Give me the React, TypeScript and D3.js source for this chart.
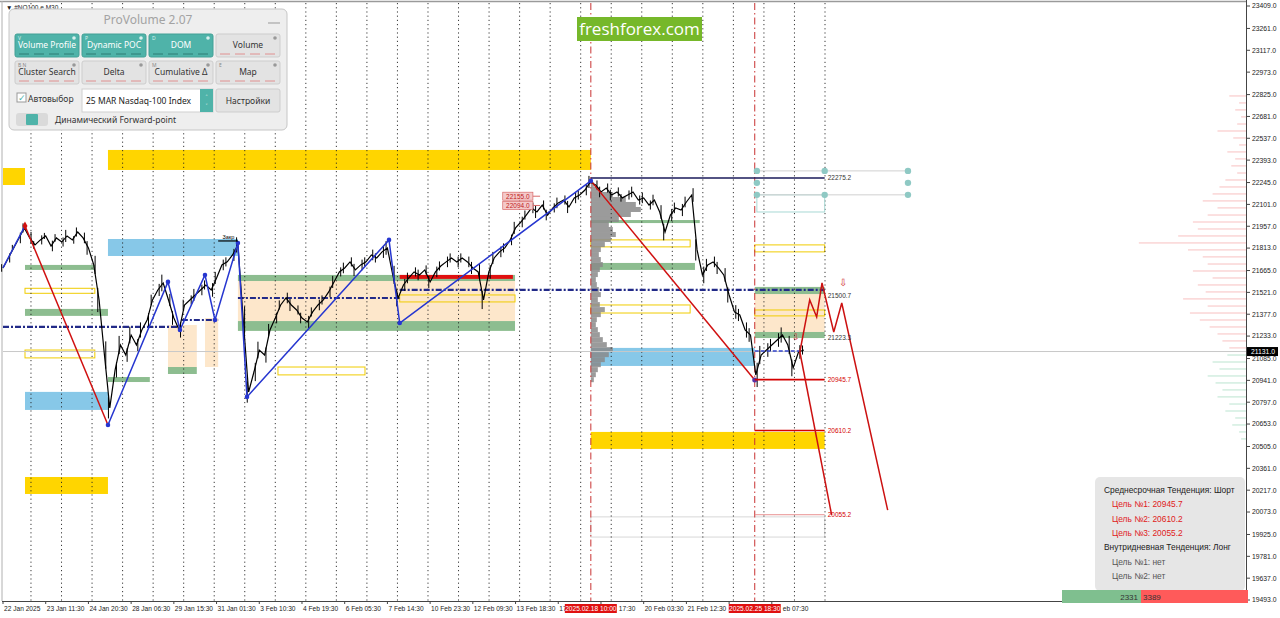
import * as d3 from "d3";

const W = 1280;
const H = 618;

// right price axis labels
const priceTicks = [
  23409, 23261, 23117, 22973, 22825, 22681, 22537, 22393, 22245, 22101, 21957,
  21813, 21665, 21521, 21377, 21233, 21085, 20941, 20797, 20653, 20505, 20361,
  20217, 20073, 19925, 19781, 19637, 19493,
];

// bottom time labels (one every 8 steps)
const timeLabels = [
  "22 Jan 2025", "23 Jan 11:30", "24 Jan 20:30", "28 Jan 06:30", "29 Jan 15:30",
  "31 Jan 01:30", "3 Feb 10:30", "4 Feb 19:30", "6 Feb 05:30", "7 Feb 14:30",
  "10 Feb 23:30", "12 Feb 09:30", "13 Feb 18:30", "17 Feb 04:30", "18 Feb 17:30",
  "20 Feb 03:30", "21 Feb 12:30", "24 Feb 22:30", "26 Feb 07:30",
];
// what is left visible of labels partly covered by the separator tags
const labelCuts: Record<number, { text: string; after: boolean }> = {
  13: { text: "17", after: false },
  14: { text: "17:30", after: true },
  17: { text: "", after: false },
  18: { text: "eb 07:30", after: true },
};
const separators = [
  { at: 110.1, text: "2025.02.18 10:00" },
  { at: 140.8, text: "2025.02.25 18:30" },
];

// #NQ100 M30 closes, one value per step
const closes = [
  21682, 21748, 21814, 21880, 21946, 21880, 21834, 21867, 21893, 21827,
  21880, 21853, 21893, 21867, 21919, 21880, 21814, 21702, 21471, 21108,
  20760, 21010, 21174, 21108, 21240, 21174, 21273, 21339, 21471, 21537,
  21583, 21471, 21352, 21273, 21438, 21471, 21504, 21537, 21570, 21537,
  21616, 21702, 21722, 21768, 21834, 21339, 20864, 20996, 21141, 21108,
  21273, 21352, 21438, 21484, 21438, 21405, 21352, 21326, 21392, 21438,
  21471, 21524, 21590, 21656, 21682, 21722, 21669, 21702, 21722, 21768,
  21748, 21788, 21814, 21636, 21484, 21570, 21616, 21656, 21636, 21669,
  21590, 21656, 21695, 21722, 21748, 21722, 21748, 21722, 21682, 21656,
  21471, 21656, 21748, 21788, 21814, 21867, 21946, 21985, 22031, 22078,
  22051, 22097, 22031, 22078, 22111, 22130, 22084, 22144, 22163, 22196,
  22249, 22229, 22183, 22209, 22163, 22183, 22144, 22163, 22183, 22130,
  22144, 22097, 22130, 22051, 21919, 22031, 22078, 22064, 22117, 22163,
  21801, 21636, 21702, 21722, 21682, 21636, 21504, 21392, 21372, 21273,
  21240, 20977, 21108, 21141, 21174, 21207, 21240, 21174, 21023, 21128,
  21141,
];
// half range of the bars around each close
const swings = [
  25, 30, 20, 35, 30, 40, 25, 30, 20, 35, 25, 30, 40, 25, 30, 35, 45,
  60, 80, 90, 70,
  50, 60, 45, 55, 40, 50, 45, 35, 40, 55,
  40, 45, 50, 35, 30, 40, 35, 30, 45, 40, 35, 30, 40, 50,
  90, 70, 60, 55, 50,
  40, 35, 30, 35, 40, 30, 35, 40, 30, 35, 30, 35, 40, 30, 35, 30, 40, 35, 30, 35, 30, 40, 45,
  60, 55, 40, 35, 30, 35, 30, 40, 35, 30, 35, 30, 35, 30, 35, 40, 55, 60,
  45, 40, 35, 30, 35, 40, 35, 30, 35, 40, 30, 35, 30, 35, 30, 40, 35, 30, 35, 40,
  30, 35, 30, 35, 30, 25, 30, 35, 30, 35, 30, 35, 45, 55, 40, 35, 40, 35, 45,
  70, 55, 40, 35, 40, 45, 50, 45, 40, 50, 45, 80, 60, 45, 40, 45, 50, 60, 55, 45, 30,
];

// zigzag legs [step, price]
const zigStart = [[0, 21682], [4.12, 21959]];
const zigMain = [
  [19.66, 20647], [30.9, 21590], [33.15, 21273], [37.83, 21636], [39.7, 21339],
  [44.0, 21847], [45.7, 20832], [72.3, 21867], [74.3, 21319], [110.1, 22256],
];
const redLegs = [
  [[4.12, 21959], [19.66, 20647]],
  [[110.1, 22256], [140.8, 20944]],
];
const projection = [
  [149.25, 21128], [151.1, 21471], [152.4, 21359], [153.4, 21583],
  [155.6, 21260], [157.1, 21451], [165.7, 20086],
];
const projectionBranch = [[149.25, 21128], [155.2, 20054]];

// zones [fromStep, toStep, topPrice, bottomPrice]
const yellowZones = [
  [0, 4.12, 22341, 22229],
  [19.66, 110.1, 22460, 22328],
  [4.12, 19.66, 20304, 20192],
  [110.1, 153.9, 20601, 20489],
];
const blueZones = [
  [19.66, 44.0, 21873, 21761],
  [4.12, 19.66, 20865, 20746],
  [110.1, 140.8, 21155, 21036],
];
const peachZones = [
  [44.0, 95.9, 21596, 21332],
  [30.9, 36.3, 21306, 21029],
  [37.83, 40.3, 21352, 21029],
  [140.8, 153.9, 21510, 21260],
];
const greenZones = [
  [4.12, 17.2, 21702, 21669],
  [4.12, 19.66, 21412, 21366],
  [19.66, 27.5, 20963, 20930],
  [30.9, 36.3, 21029, 20983],
  [44.0, 95.9, 21636, 21596],
  [44.0, 95.9, 21332, 21267],
  [110.1, 129.6, 21715, 21669],
  [110.1, 130.5, 21998, 21978],
  [140.8, 153.9, 21557, 21510],
  [140.8, 153.9, 21260, 21220],
];
const yellowOutlines = [
  [4.12, 17.2, 21548, 21515],
  [4.12, 17.2, 21141, 21089],
  [51.5, 67.8, 21029, 20977],
  [74.3, 95.9, 21504, 21458],
  [110.1, 128.7, 21867, 21821],
  [110.1, 128.7, 21438, 21385],
  [140.8, 153.9, 21834, 21788],
  [140.8, 153.9, 21405, 21366],
];
const redBars = [[74.3, 95.5, 21636, 21610]];
const navyDash = [
  [0, 33.5, 21293],
  [33.5, 40.3, 21339],
  [44.0, 74.3, 21484],
  [74.3, 153.9, 21537],
];

// targets
const targetLevels = [
  { from: 140.8, to: 153.9, price: 20945.7, color: "#d40000", w: 1.6 },
  { from: 140.8, to: 153.9, price: 20610.2, color: "#d40000", w: 1.6 },
  { from: 140.8, to: 153.9, price: 20055.2, color: "#e89090", w: 1 },
  { from: 110.1, to: 153.9, price: 22275.2, color: "#1a1a5a", w: 1.4 },
];
const levelLabels = [
  { price: 22275.2, color: "#333" },
  { price: 21500.7, color: "#333" },
  { price: 21223.3, color: "#333" },
  { price: 20945.7, color: "#d40000" },
  { price: 20610.2, color: "#d40000" },
  { price: 20055.2, color: "#d40000" },
];
const priceTags = [22155.0, 22094.0];
const currentPrice = 21131;

// session volume profile at the 18 Feb separator
const vpPrices = [
  22249, 22216, 22183, 22150, 22117, 22084, 22051, 22018, 21985, 21952,
  21919, 21886, 21853, 21820, 21787, 21754, 21721, 21688, 21655, 21622,
  21589, 21556, 21523, 21490, 21457, 21424, 21391, 21358, 21325, 21292,
  21259, 21226, 21193, 21160, 21127, 21094, 21061, 21028, 20995, 20962,
];
const vpVolumes = [
  6, 16, 44, 70, 90, 100, 80, 56, 36, 44, 50, 40, 28, 20, 16, 20, 24, 18, 14,
  10, 12, 16, 20, 14, 18, 28, 20, 12, 10, 14, 18, 24, 32, 44, 36, 28, 20, 14,
  10, 6,
];

// right-edge market profile
const rpPrices = [
  22816, 22770, 22724, 22678, 22631, 22585, 22539, 22493, 22447, 22401,
  22355, 22308, 22262, 22216, 22170, 22124, 22078, 22031, 21985, 21939,
  21893, 21847, 21801, 21755, 21708, 21662, 21616, 21570, 21524, 21478,
  21431, 21385, 21339, 21293, 21247, 21201, 21155, 21108, 21062, 21016,
  20970, 20924, 20878, 20832, 20785, 20739, 20693, 20647, 20601, 20555,
];
const rpVolumes = [
  18, 8, 12, 6, 10, 30, 14, 8, 20, 12, 16, 10, 22, 28, 35, 45, 30, 40, 55, 50,
  70, 110, 60, 45, 40, 55, 35, 50, 42, 65, 40, 58, 48, 38, 30, 25, 18, 20, 35,
  28, 40, 32, 25, 30, 18, 22, 12, 15, 8, 6,
];

const panelButtons = [
  { label: "Volume Profile", key: "V", col: 0, row: 0, on: true },
  { label: "Dynamic POC", key: "P", col: 1, row: 0, on: true },
  { label: "DOM", key: "D", col: 2, row: 0, on: true },
  { label: "Volume", key: "", col: 3, row: 0, on: false },
  { label: "Cluster Search", key: "B  N", col: 0, row: 1, on: false },
  { label: "Delta", key: "", col: 1, row: 1, on: false },
  { label: "Cumulative Δ", key: "M", col: 2, row: 1, on: false },
  { label: "Map", key: "E", col: 3, row: 1, on: false },
];

const infoLines = [
  { text: "Среднесрочная Тенденция: Шорт", indent: 0, color: "#222" },
  { text: "Цель №1: 20945.7", indent: 8, color: "#e02020" },
  { text: "Цель №2: 20610.2", indent: 8, color: "#e02020" },
  { text: "Цель №3: 20055.2", indent: 8, color: "#e02020" },
  { text: "Внутридневная Тенденция: Лонг", indent: 0, color: "#222" },
  { text: "Цель №1: нет", indent: 8, color: "#555" },
  { text: "Цель №2: нет", indent: 8, color: "#555" },
];
const buySell = [2331, 3389];

const axisFont = "'Liberation Sans', Arial, sans-serif";
const uiFont = "'Noto Sans', 'Open Sans', sans-serif";

const Panel = () => {
  const colX = [15, 82, 149, 216];
  const rowY = [34, 61];
  return (
    <g fontFamily={uiFont}>
      <rect x={9} y={9} width={278} height={121} rx={5} fill="#eeeeee" stroke="#c6c6c6" />
      <text x={148} y={24} fontSize={12} fill="#a3a3a3" textAnchor="middle">
        ProVolume 2.07
      </text>
      <line x1={268} x2={280} y1={23} y2={23} stroke="#999" />
      {panelButtons.map((b) => {
        const bx = colX[b.col];
        const by = rowY[b.row];
        return (
          <g key={b.label}>
            <rect
              x={bx}
              y={by}
              width={64}
              height={23}
              rx={2}
              fill={b.on ? "#4fb3a9" : "#e3e3e3"}
              stroke={b.on ? "#43a096" : "#cdcdcd"}
            />
            <text x={bx + 3} y={by + 6} fontSize={5} fill={b.on ? "#d8f0ee" : "#888"}>
              {b.key}
            </text>
            <circle cx={bx + 59} cy={by + 4} r={1.8} fill={b.on ? "#d8f0ee" : "#999"} />
            <text
              x={bx + 32}
              y={by + 14}
              fontSize={8.5}
              textAnchor="middle"
              fill={b.on ? "#ffffff" : "#333"}
            >
              {b.label}
            </text>
            {[0, 1, 2, 3].map((k) => (
              <line
                key={k}
                x1={bx + 4 + k * 15}
                x2={bx + 14 + k * 15}
                y1={by + 20}
                y2={by + 20}
                stroke={b.on ? "#2f7d75" : "#e09090"}
                strokeWidth={1}
              />
            ))}
          </g>
        );
      })}
      <rect x={17} y={93} width={9} height={9} fill="#fff" stroke="#999" />
      <text x={18} y={101} fontSize={9} fill="#4fb3a9">
        ✓
      </text>
      <text x={28} y={102} fontSize={8.5} fill="#333">
        Автовыбор
      </text>
      <rect x={82} y={89} width={131} height={23} fill="#fff" stroke="#cfcfcf" />
      <text x={86} y={104} fontSize={8.5} fill="#222">
        25 MAR Nasdaq-100 Index
      </text>
      <rect x={200} y={89} width={13} height={23} fill="#4fb3a9" />
      <text x={206.5} y={99} fontSize={6} fill="#fff" textAnchor="middle">
        ˄
      </text>
      <text x={206.5} y={108} fontSize={6} fill="#fff" textAnchor="middle">
        ˅
      </text>
      <rect x={216} y={89} width={64} height={23} rx={2} fill="#e3e3e3" stroke="#cdcdcd" />
      <text x={248} y={104} fontSize={8.5} textAnchor="middle" fill="#333">
        Настройки
      </text>
      <rect x={16} y={113} width={32} height={13} rx={3} fill="#dadada" />
      <rect x={26} y={114} width={12} height={11} rx={1} fill="#4fb3a9" />
      <text x={55} y={123} fontSize={8.5} fill="#333">
        Динамический Forward-point
      </text>
    </g>
  );
};

const App = () => {
  const x = d3.scaleLinear().domain([0, 233]).range([3, 1247]);
  const y = d3.scaleLinear().domain([19493, 23409]).range([600, 6]);
  const line = d3
    .line<number[]>()
    .x((d) => x(d[0]))
    .y((d) => y(d[1]));
  const priceLine = d3
    .line<number>()
    .x((_, i) => x(i))
    .y((d) => y(d));
  const vpW = d3.scaleLinear().domain([0, 100]).range([0, 50]);
  const rpW = d3.scaleLinear().domain([0, 120]).range([0, 118]);

  const gridSteps = d3.range(0, 27).map((k) => 5.24 + 5.72 * k);
  const plotRight = x(233);
  const zoneRect = (z: number[], key: string, props: any) => (
    <rect
      key={key}
      x={x(z[0])}
      width={x(z[1]) - x(z[0])}
      y={y(z[2])}
      height={y(z[3]) - y(z[2])}
      {...props}
    />
  );
  const vpStep = y(vpPrices[1]) - y(vpPrices[0]);
  const tagHalf = 26;

  return (
    <div style={{ position: "absolute", left: 0, top: 0 }}>
      <svg width={W} height={H} style={{ display: "block", background: "#fff" }}>
        {/* frame */}
        <line x1={0} x2={plotRight} y1={1.5} y2={1.5} stroke="#9a9a9a" strokeWidth={1.5} />
        <line x1={2} x2={2} y1={1} y2={601} stroke="#b0b0b0" />

        {/* right market profile */}
        {rpPrices.map((p, i) => (
          <rect
            key={p}
            x={plotRight - rpW(rpVolumes[i])}
            y={y(p) - 0.6}
            width={rpW(rpVolumes[i])}
            height={1.2}
            fill={p > currentPrice ? "#ee6a6a" : "#5fbf8f"}
            opacity={0.35}
          />
        ))}

        {/* zones */}
        {yellowZones.map((z, i) => zoneRect(z, "y" + i, { fill: "#ffd500" }))}
        {blueZones.map((z, i) => zoneRect(z, "b" + i, { fill: "#87c8e8" }))}
        {peachZones.map((z, i) => zoneRect(z, "p" + i, { fill: "#fde3c2", opacity: 0.85 }))}
        {greenZones.map((z, i) => zoneRect(z, "g" + i, { fill: "#79b27c", opacity: 0.85 }))}
        {yellowOutlines.map((z, i) =>
          zoneRect(z, "yo" + i, { fill: "none", stroke: "#f0cc00", strokeWidth: 1 })
        )}
        {redBars.map((z, i) => zoneRect(z, "r" + i, { fill: "#e01010" }))}
        {zoneRect([110.1, 153.9, 20041, 19908], "gray-box", {
          fill: "none",
          stroke: "#d8d8d8",
        })}

        {/* session volume profile */}
        {vpPrices.map((p, i) => (
          <rect
            key={p}
            x={x(110.1)}
            y={y(p)}
            width={vpW(vpVolumes[i])}
            height={vpStep}
            fill="#8a8a8a"
            opacity={0.85}
          />
        ))}

        {/* grid */}
        {gridSteps.map((g) => (
          <line
            key={g}
            x1={x(g)}
            x2={x(g)}
            y1={3}
            y2={601}
            stroke="#222"
            strokeDasharray="1.2,3"
            strokeWidth={0.9}
          />
        ))}
        {separators.map((s) => (
          <line
            key={s.text}
            x1={x(s.at)}
            x2={x(s.at)}
            y1={3}
            y2={601}
            stroke="#c83232"
            strokeDasharray="7,3,1.5,3"
          />
        ))}
        <line
          x1={3}
          x2={plotRight}
          y1={y(currentPrice)}
          y2={y(currentPrice)}
          stroke="#c8c8c8"
        />

        {/* top-right pattern boxes */}
        {zoneRect([141.2, 153.9, 22164, 22051], "tbox", {
          fill: "none",
          stroke: "#a8d8d4",
        })}
        {[22322, 22164].map((p) => (
          <line key={p} x1={x(141.2)} x2={x(169.5)} y1={y(p)} y2={y(p)} stroke="#d0d0d0" />
        ))}
        {[
          [141.2, 22322], [141.2, 22243], [141.2, 22164], [153.9, 22322],
          [153.9, 22164], [169.5, 22322], [169.5, 22243], [169.5, 22164],
        ].map((d, i) => (
          <circle key={i} cx={x(d[0])} cy={y(d[1])} r={3.2} fill="#8fc9c4" />
        ))}

        {/* navy dash-dot levels */}
        {navyDash.map((s, i) => (
          <line
            key={i}
            x1={x(s[0])}
            x2={x(s[1])}
            y1={y(s[2])}
            y2={y(s[2])}
            stroke="#222a88"
            strokeWidth={2.2}
            strokeDasharray="6,2,2,2"
          />
        ))}

        {/* price bars + close line */}
        {closes.map((c, i) => (
          <line
            key={i}
            x1={x(i + (i % 2 ? 0.25 : -0.25))}
            x2={x(i + (i % 2 ? 0.25 : -0.25))}
            y1={y(c + swings[i])}
            y2={y(c - swings[i])}
            stroke="#000"
            strokeWidth={1}
          />
        ))}
        <path d={priceLine(closes) || ""} fill="none" stroke="#000" strokeWidth={1.2} />

        {/* zigzag */}
        <path d={line(zigStart) || ""} fill="none" stroke="#2636d0" strokeWidth={1.5} />
        <path d={line(zigMain) || ""} fill="none" stroke="#2636d0" strokeWidth={1.5} />
        {redLegs.map((l, i) => (
          <path key={i} d={line(l) || ""} fill="none" stroke="#d01010" strokeWidth={1.5} />
        ))}
        {zigMain.map((d, i) => (
          <circle key={i} cx={x(d[0])} cy={y(d[1])} r={2.3} fill="#2636d0" />
        ))}
        <path
          d={d3.symbol(d3.symbolDiamond, 22)() || ""}
          transform={`translate(${x(4.12)},${y(21959)})`}
          fill="#d01010"
        />
        <circle cx={x(140.8)} cy={y(20944)} r={2.5} fill="#5533aa" />
        <line
          x1={x(140.8)}
          x2={x(149.25)}
          y1={y(21135)}
          y2={y(21135)}
          stroke="#3344cc"
          strokeWidth={1.5}
          strokeDasharray="4,2"
        />

        {/* targets */}
        {targetLevels.map((t) => (
          <line
            key={t.price}
            x1={x(t.from)}
            x2={x(t.to)}
            y1={y(t.price)}
            y2={y(t.price)}
            stroke={t.color}
            strokeWidth={t.w}
          />
        ))}
        <path d={line(projection) || ""} fill="none" stroke="#cc1111" strokeWidth={1.5} />
        <path d={line(projectionBranch) || ""} fill="none" stroke="#cc1111" strokeWidth={1.5} />
        {levelLabels.map((l) => (
          <text
            key={l.price}
            x={x(153.9) + 3}
            y={y(l.price) + 2.5}
            fontSize={6.5}
            fontFamily={axisFont}
            fill={l.color}
          >
            {l.price.toFixed(1)}
          </text>
        ))}
        <text x={x(157.3)} y={y(21583) + 3} fontSize={10} fill="#d03030" textAnchor="middle">
          ⇩
        </text>
        <text x={x(148.6)} y={y(21223.3) + 2} fontSize={9} fill="#d03030" textAnchor="middle">
          ⇩
        </text>

        {/* price tags */}
        {priceTags.map((p) => (
          <g key={p} fontFamily={axisFont}>
            <rect
              x={x(93.6)}
              y={y(p) - 4}
              width={x(99.25) - x(93.6)}
              height={8}
              fill="#f4caca"
              stroke="#d86a6a"
              strokeWidth={0.7}
            />
            <line x1={x(99.25)} x2={x(100.6)} y1={y(p)} y2={y(p)} stroke="#d86a6a" />
            <text
              x={(x(93.6) + x(99.25)) / 2}
              y={y(p) + 2.5}
              fontSize={6.5}
              textAnchor="middle"
              fill="#c02020"
            >
              {p.toFixed(1)}
            </text>
          </g>
        ))}
        <line x1={x(40.3)} x2={x(44.0)} y1={y(21860)} y2={y(21860)} stroke="#000" strokeWidth={1.2} />
        <text x={x(42.2)} y={y(21860) - 2} fontSize={5.5} textAnchor="middle" fontFamily={axisFont}>
          Закр
        </text>

        {/* symbol caption */}
        <text x={6} y={10} fontSize={6.5} fontFamily={axisFont} fill="#222">
          ▼ #NQ100 e,M30
        </text>

        {/* right axis */}
        <line x1={plotRight - 0.5} x2={plotRight - 0.5} y1={0} y2={601} stroke="#444" />
        {priceTicks.map((p) => (
          <g key={p} transform={`translate(${plotRight}, ${y(p)})`}>
            <line x1={0} x2={3} stroke="#444" />
            <text x={5} dy="0.35em" fontSize={6.8} fontFamily={axisFont} fill="#222">
              {p.toFixed(1)}
            </text>
          </g>
        ))}
        <rect x={plotRight} y={y(currentPrice) - 4.5} width={31} height={9} fill="#000" />
        <text
          x={plotRight + 4}
          y={y(currentPrice) + 2.5}
          fontSize={6.8}
          fontFamily={axisFont}
          fill="#fff"
        >
          {currentPrice.toFixed(1)}
        </text>

        {/* bottom axis */}
        <line x1={2} x2={plotRight} y1={601.5} y2={601.5} stroke="#444" />
        {timeLabels.map((t, i) => {
          const px = x(i * 8);
          const cut = labelCuts[i];
          let text = t;
          let tx = 1;
          if (cut) {
            text = cut.text;
            if (cut.after) {
              const sep = separators.find(
                (s) => px >= x(s.at) - tagHalf && px <= x(s.at) + tagHalf
              );
              if (sep) tx = x(sep.at) + tagHalf + 2 - px;
            }
          }
          return (
            <g key={t} transform={`translate(${px}, 601)`}>
              <line y1={0} y2={3} stroke="#444" />
              {text && (
                <text x={tx} y={10} fontSize={6.6} fontFamily={axisFont} fill="#222">
                  {text}
                </text>
              )}
            </g>
          );
        })}
        {separators.map((s) => (
          <g key={s.text} transform={`translate(${x(s.at)}, 604)`}>
            <rect x={-tagHalf} y={0} width={tagHalf * 2} height={9} fill="#e01010" />
            <text y={7} fontSize={6.6} textAnchor="middle" fontFamily={axisFont} fill="#fff">
              {s.text}
            </text>
          </g>
        ))}

        <Panel />

        {/* logo */}
        <rect x={577} y={17} width={125} height={24} fill="#76b82a" />
        <text
          x={639.5}
          y={35}
          fontSize={17}
          textAnchor="middle"
          fill="#fff"
          fontFamily="'Open Sans', sans-serif"
        >
          freshforex.com
        </text>

        {/* info box */}
        <rect x={1095} y={477} width={150} height={114} rx={5} fill="#e6e6e6" />
        {infoLines.map((l, i) => (
          <text
            key={i}
            x={1104 + l.indent}
            y={493 + i * 14.3}
            fontSize={8.4}
            fontFamily={axisFont}
            fill={l.color}
          >
            {l.text}
          </text>
        ))}
        <rect x={1062} y={590} width={79} height={13} fill="#7fbf8f" />
        <rect x={1141} y={590} width={107} height={13} fill="#ff5a5a" />
        <text x={1138} y={599.5} fontSize={8} textAnchor="end" fontFamily={axisFont} fill="#333">
          {buySell[0]}
        </text>
        <text x={1143} y={599.5} fontSize={8} fontFamily={axisFont} fill="#333">
          {buySell[1]}
        </text>
      </svg>
    </div>
  );
};

export default App;
